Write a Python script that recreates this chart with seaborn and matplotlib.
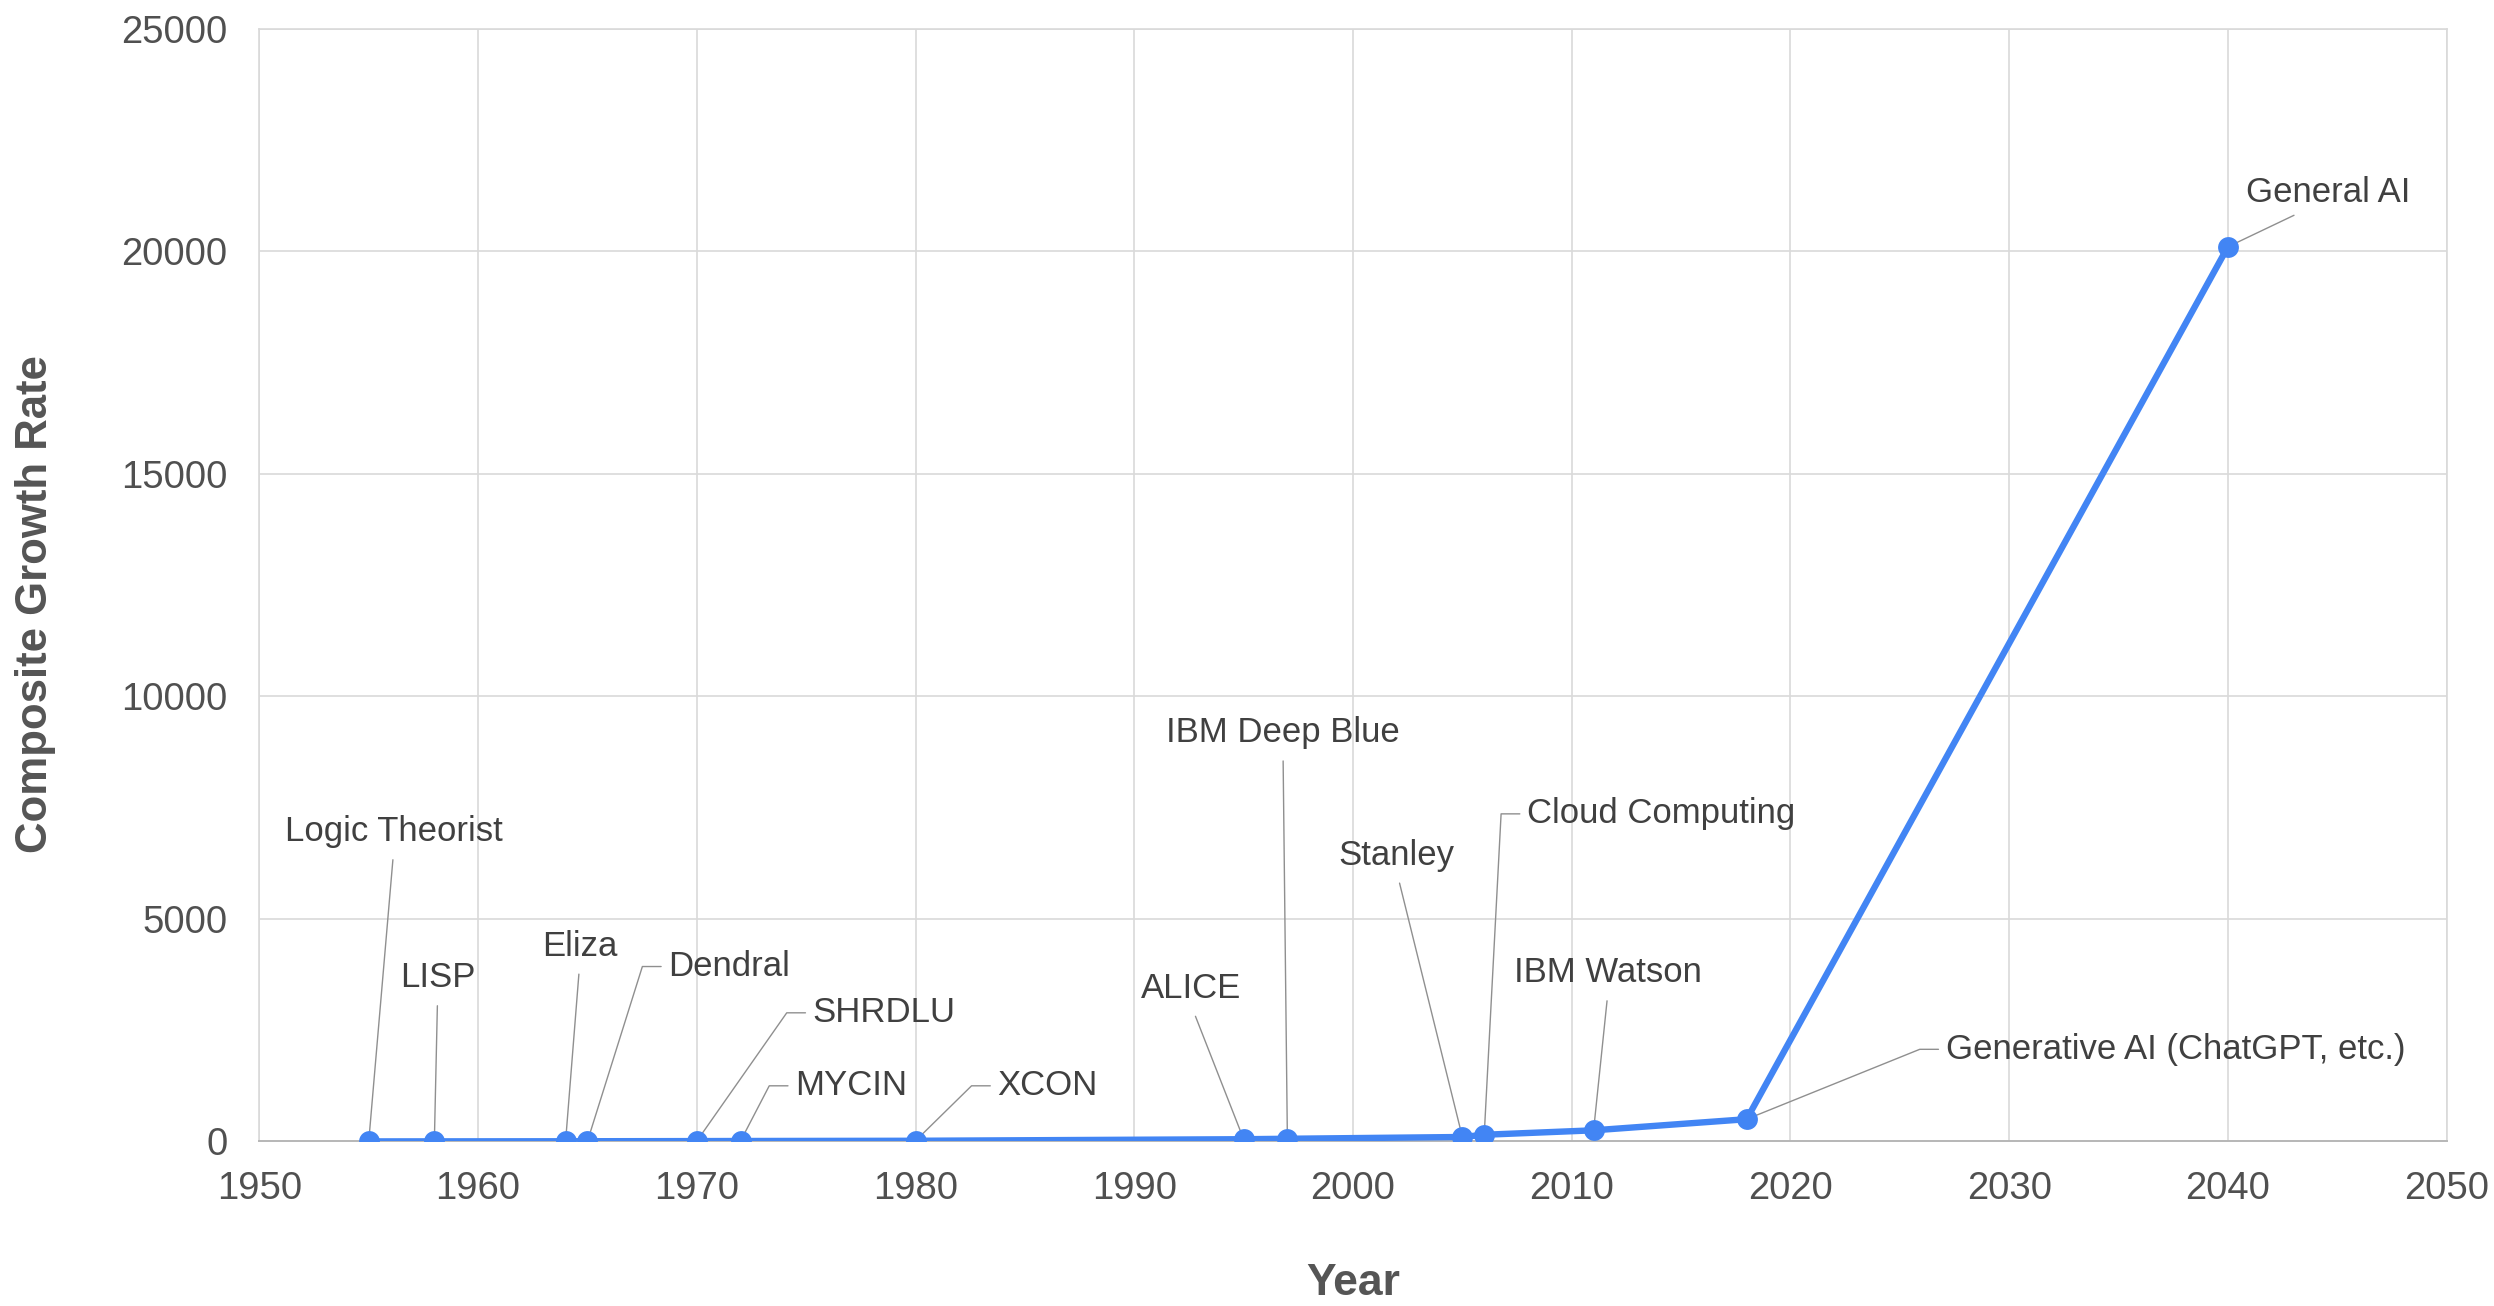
import math
import matplotlib
matplotlib.use("Agg")
import matplotlib.pyplot as plt
import seaborn as sns
import pandas as pd

# milestone data
milestones = ["Logic Theorist", "LISP", "Eliza", "Dendral", "SHRDLU", "MYCIN", "XCON",
              "ALICE", "IBM Deep Blue", "Stanley", "Cloud Computing", "IBM Watson",
              "Generative AI (ChatGPT, etc.)", "General AI"]
years = [1955, 1958, 1964, 1965, 1970, 1972, 1980, 1995, 1997, 2005, 2006, 2011, 2018, 2040]
growth = [1, 2, 4, 5, 8, 10, 15, 50, 60, 100, 150, 250, 500, 20100]

x_ticks = [1950, 1960, 1970, 1980, 1990, 2000, 2010, 2020, 2030, 2040, 2050]
y_ticks = [0, 5000, 10000, 15000, 20000, 25000]

# label placement (data coords) and style: 'c' = centered, straight leader; 'h' = left aligned, hooked leader
label_x = [1956.15, 1958.15, 1964.65, 1968.7, 1975.3, 1974.5, 1983.75,
           1992.6, 1996.8, 2002.0, 2007.96, 2011.67, 2027.1, 2044.6]
label_y = [6960, 3680, 4390, 3930, 2890, 1250, 1250,
           3430, 9180, 6430, 7360, 3790, 2070, 21320]
label_kind = ["c", "c", "c", "h", "h", "h", "h", "c", "c", "c", "h", "c", "h", "g"]

df = pd.DataFrame({"Year": years, "Growth": growth, "Milestone": milestones})

sns.set_theme(style="white")
plt.rcParams["font.family"] = ["Liberation Sans", "DejaVu Sans"]

fig = plt.figure(figsize=(24.94, 13.06), dpi=100)
ax = fig.add_axes([0.104, 0.126, 0.877, 0.852])

blue = "#4285F4"
sns.lineplot(data=df, x="Year", y="Growth", ax=ax, color=blue, linewidth=4.6,
             marker="o", markersize=15, markeredgewidth=0, zorder=3)

ax.set_xlim(1950, 2050)
ax.set_ylim(0, 25000)
ax.set_xticks(x_ticks)
ax.set_xticklabels([str(t) for t in x_ticks])
ax.set_yticks(y_ticks)
ax.set_yticklabels([str(t) for t in y_ticks])
ax.tick_params(axis="both", length=0, labelsize=27.5, labelcolor="#505050")
ax.tick_params(axis="x", pad=21)
ax.tick_params(axis="y", pad=23)

ax.grid(True, color="#d9d9d9", linewidth=1.2)
ax.set_axisbelow(True)
for side in ["top", "left", "right"]:
    ax.spines[side].set_color("#d9d9d9")
    ax.spines[side].set_linewidth(1.2)
ax.spines["bottom"].set_color("#b7b7b7")
ax.spines["bottom"].set_linewidth(1.4)

ax.set_xlabel("Year", fontsize=32, fontweight="bold", color="#555555", va="center")
ax.set_ylabel("Composite Growth Rate", fontsize=31.5, fontweight="bold", color="#555555", va="center")
ax.xaxis.set_label_coords(0.5, -0.1276)
ax.yaxis.set_label_coords(-0.1024, 0.483)

lead = dict(color="#8f8f8f", lw=1.0)
gap_px, hook_px = 4, 22
for name, px, py, tx, ty, kind in zip(milestones, years, growth, label_x, label_y, label_kind):
    if kind == "c":
        ax.annotate(name, xy=(px, py), xytext=(tx, ty), ha="center", va="center",
                    fontsize=25, color="#404040", zorder=2.5,
                    arrowprops=dict(arrowstyle="-", shrinkA=6, shrinkB=0,
                                    relpos=(0.5, 0), **lead))
    elif kind == "g":
        ax.annotate(name, xy=(px, py), xytext=(tx, ty), ha="center", va="center",
                    fontsize=25, color="#404040", zorder=2.5,
                    arrowprops=dict(arrowstyle="-", shrinkA=5, shrinkB=0,
                                    relpos=(0.37, 0), **lead))
    else:
        # angle of the slanted part so that the hook sits just left of the text
        dx, dy = ax.transData.transform((px, py))
        tx_d, ty_d = ax.transData.transform((tx, ty))
        cx = tx_d - gap_px - hook_px
        ang = math.degrees(math.atan2(ty_d - dy, cx - dx))
        ax.annotate(name, xy=(px, py), xytext=(tx, ty), ha="left", va="center",
                    fontsize=25, color="#404040", zorder=2.5,
                    arrowprops=dict(arrowstyle="-", shrinkA=gap_px * 0.72, shrinkB=0,
                                    relpos=(0, 0.5),
                                    connectionstyle=f"angle,angleA=0,angleB={ang:.2f},rad=0",
                                    **lead))

fig.savefig("out.png", dpi=100, facecolor="white")
